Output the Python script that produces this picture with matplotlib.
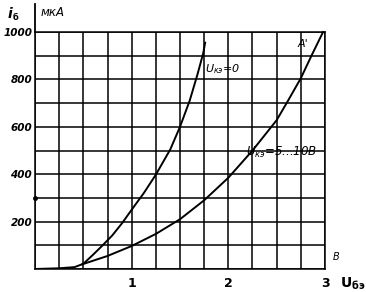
import numpy as np
import matplotlib.pyplot as plt

# input characteristics: base current (uA) vs base-emitter voltage (V)
u1 = [0.0, 0.25, 0.41, 0.5, 0.6, 0.7, 0.8, 0.9, 1.0, 1.125, 1.25, 1.4, 1.5, 1.6, 1.68, 1.74, 1.76]
i1 = [0, 3, 8, 22, 60, 100, 142, 193, 250, 320, 398, 505, 600, 710, 820, 910, 955]

u2 = [0.49, 0.75, 1.0, 1.25, 1.5, 1.75, 2.0, 2.25, 2.5, 2.62, 2.75, 2.86, 2.98]
i2 = [20, 55, 97, 148, 210, 290, 385, 500, 628, 712, 805, 900, 1000]

xticks = np.arange(0, 3.01, 0.25)
xlabels = ['1' if t == 1 else '2' if t == 2 else '3' if t == 3 else '' for t in xticks]
yticks = np.arange(0, 1001, 100)
ylabels = [str(t) if t % 200 == 0 and t > 0 else '' for t in yticks]

plt.rcParams['mathtext.fontset'] = 'dejavusans'

fig = plt.figure(figsize=(3.66, 2.92), dpi=100)
ax = fig.add_axes([35/366, 1 - 269/292, 290/366, 237/292])

ax.plot(u1, i1, 'k', lw=1.4)
ax.plot(u2, i2, 'k', lw=1.4, clip_on=False)

ax.set_xlim(0, 3)
ax.set_ylim(0, 1000)
ax.set_xticks(xticks)
ax.set_xticklabels(xlabels, fontsize=9, fontweight='bold')
ax.set_yticks(yticks)
ax.set_yticklabels(ylabels, fontsize=7.5, fontstyle='italic', fontweight='bold')
ax.tick_params(length=0, pad=2)
ax.tick_params(axis='x', pad=6)
ax.grid(True, color='k', lw=1.1)
for s in ax.spines.values():
    s.set_linewidth(1.1)

# y axis sticks out above the grid
ax.plot([0, 0], [1000, 1120], 'k', lw=1.3, clip_on=False)
ax.plot(0, 300, 'ko', ms=2.5, clip_on=False)

fig.text(10/366, 1 - 14/292, 'i', fontsize=10, fontstyle='italic', fontweight='bold', ha='center', va='center')
fig.text(16/366, 1 - 18/292, 'б', fontsize=6, fontweight='bold', ha='center', va='center')
fig.text(41/366, 1 - 12/292, 'мкА', fontsize=8.5, fontstyle='italic', ha='left', va='center')

ax.text(1.76, 845, r'$U_{кэ}$=0', fontsize=8, fontstyle='italic', ha='left', va='center')
ax.text(2.18, 490, r'$U_{кэ}$=5...10В', fontsize=8.5, fontstyle='italic', ha='left', va='center')
ax.text(2.72, 950, "A'", fontsize=8, fontstyle='italic', ha='left', va='center')
ax.text(3.12, 50, 'В', fontsize=7, fontstyle='italic', ha='center', va='center', clip_on=False)
fig.text(340/366, 1 - 284/292, r'$\mathbf{U_{бэ}}$', fontsize=10, ha='left', va='center')

fig.savefig('out.png', dpi=100)
